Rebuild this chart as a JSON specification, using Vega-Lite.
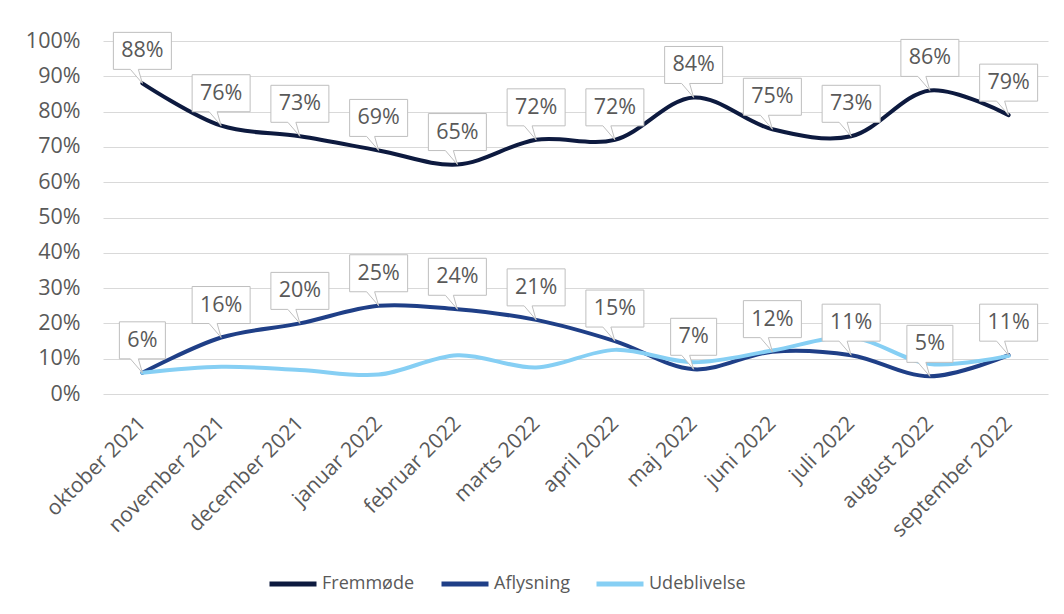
{
  "$schema": "https://vega.github.io/schema/vega-lite/v6.json",
  "width": 945,
  "height": 353,
  "autosize": {"type": "none"},
  "padding": {"left": 103, "top": 41, "right": 16, "bottom": 220},
  "background": "white",
  "config": {"view": {"stroke": null}, "font": "Open Sans"},
  "data": {
    "values": [
      {"month": "oktober 2021", "series": "Fremmøde", "value": 0.88},
      {"month": "november 2021", "series": "Fremmøde", "value": 0.76},
      {"month": "december 2021", "series": "Fremmøde", "value": 0.73},
      {"month": "januar 2022", "series": "Fremmøde", "value": 0.69},
      {"month": "februar 2022", "series": "Fremmøde", "value": 0.65},
      {"month": "marts 2022", "series": "Fremmøde", "value": 0.72},
      {"month": "april 2022", "series": "Fremmøde", "value": 0.72},
      {"month": "maj 2022", "series": "Fremmøde", "value": 0.84},
      {"month": "juni 2022", "series": "Fremmøde", "value": 0.75},
      {"month": "juli 2022", "series": "Fremmøde", "value": 0.73},
      {"month": "august 2022", "series": "Fremmøde", "value": 0.86},
      {"month": "september 2022", "series": "Fremmøde", "value": 0.79},
      {"month": "oktober 2021", "series": "Aflysning", "value": 0.06},
      {"month": "november 2021", "series": "Aflysning", "value": 0.16},
      {"month": "december 2021", "series": "Aflysning", "value": 0.20},
      {"month": "januar 2022", "series": "Aflysning", "value": 0.25},
      {"month": "februar 2022", "series": "Aflysning", "value": 0.24},
      {"month": "marts 2022", "series": "Aflysning", "value": 0.21},
      {"month": "april 2022", "series": "Aflysning", "value": 0.15},
      {"month": "maj 2022", "series": "Aflysning", "value": 0.07},
      {"month": "juni 2022", "series": "Aflysning", "value": 0.12},
      {"month": "juli 2022", "series": "Aflysning", "value": 0.11},
      {"month": "august 2022", "series": "Aflysning", "value": 0.05},
      {"month": "september 2022", "series": "Aflysning", "value": 0.11},
      {"month": "oktober 2021", "series": "Udeblivelse", "value": 0.06},
      {"month": "november 2021", "series": "Udeblivelse", "value": 0.077},
      {"month": "december 2021", "series": "Udeblivelse", "value": 0.068},
      {"month": "januar 2022", "series": "Udeblivelse", "value": 0.055},
      {"month": "februar 2022", "series": "Udeblivelse", "value": 0.11},
      {"month": "marts 2022", "series": "Udeblivelse", "value": 0.075},
      {"month": "april 2022", "series": "Udeblivelse", "value": 0.125},
      {"month": "maj 2022", "series": "Udeblivelse", "value": 0.09},
      {"month": "juni 2022", "series": "Udeblivelse", "value": 0.123},
      {"month": "juli 2022", "series": "Udeblivelse", "value": 0.16},
      {"month": "august 2022", "series": "Udeblivelse", "value": 0.085},
      {"month": "september 2022", "series": "Udeblivelse", "value": 0.108}
    ]
  },
  "encoding": {
    "x": {
      "field": "month",
      "type": "ordinal",
      "sort": ["oktober 2021", "november 2021", "december 2021", "januar 2022", "februar 2022", "marts 2022", "april 2022", "maj 2022", "juni 2022", "juli 2022", "august 2022", "september 2022"],
      "scale": {"type": "point", "padding": 0.5},
      "axis": {
        "title": null,
        "labelAngle": -45,
        "labelAlign": "right",
        "labelBaseline": "middle",
        "labelFontSize": 21,
        "labelColor": "#595959",
        "labelPadding": 26,
        "ticks": false,
        "domain": false,
        "grid": false
      }
    },
    "y": {
      "field": "value",
      "type": "quantitative",
      "scale": {"domain": [0, 1]},
      "axis": {
        "title": null,
        "values": [0, 0.1, 0.2, 0.3, 0.4, 0.5, 0.6, 0.7, 0.8, 0.9, 1],
        "format": ".0%",
        "labelFontSize": 21.5,
        "labelColor": "#595959",
        "labelPadding": 23,
        "ticks": false,
        "domain": false,
        "gridColor": "#d9d9d9",
        "gridWidth": 1
      }
    }
  },
  "layer": [
    {
      "mark": {"type": "line", "interpolate": "catmull-rom", "strokeWidth": 4, "strokeCap": "round", "strokeJoin": "round"},
      "encoding": {
        "color": {
          "field": "series",
          "type": "nominal",
          "sort": ["Fremmøde", "Aflysning", "Udeblivelse"],
          "scale": {"domain": ["Fremmøde", "Aflysning", "Udeblivelse"], "range": ["#0d1a3f", "#1f3f87", "#86cff4"]},
          "legend": {
            "orient": "none",
            "legendX": 164,
            "legendY": 517,
            "direction": "horizontal",
            "title": null,
            "symbolType": "stroke",
            "symbolSize": 2209,
            "symbolStrokeWidth": 5,
            "labelFontSize": 18,
            "labelColor": "#595959",
            "labelOffset": 3,
            "columnPadding": 16
          }
        }
      }
    },
    {
      "transform": [{"filter": "datum.series !== 'Udeblivelse'"}],
      "mark": {"type": "point", "filled": true, "fill": "white", "stroke": "#bfbfbf", "strokeWidth": 1, "opacity": 1, "size": 4},
      "encoding": {
        "shape": {
          "condition": {"test": "datum.value < 0.095", "value": "M-23,-51H23V-14H-4L0,0L-12,-14H-23Z"},
          "value": "M-29,-51H29V-14H-4L0,0L-12,-14H-29Z"
        }
      }
    },
    {
      "transform": [{"filter": "datum.series !== 'Udeblivelse'"}],
      "mark": {"type": "text", "dy": -32, "fontSize": 21.5, "color": "#595959", "baseline": "middle", "align": "center"},
      "encoding": {
        "text": {"field": "value", "type": "quantitative", "format": ".0%"}
      }
    }
  ]
}
